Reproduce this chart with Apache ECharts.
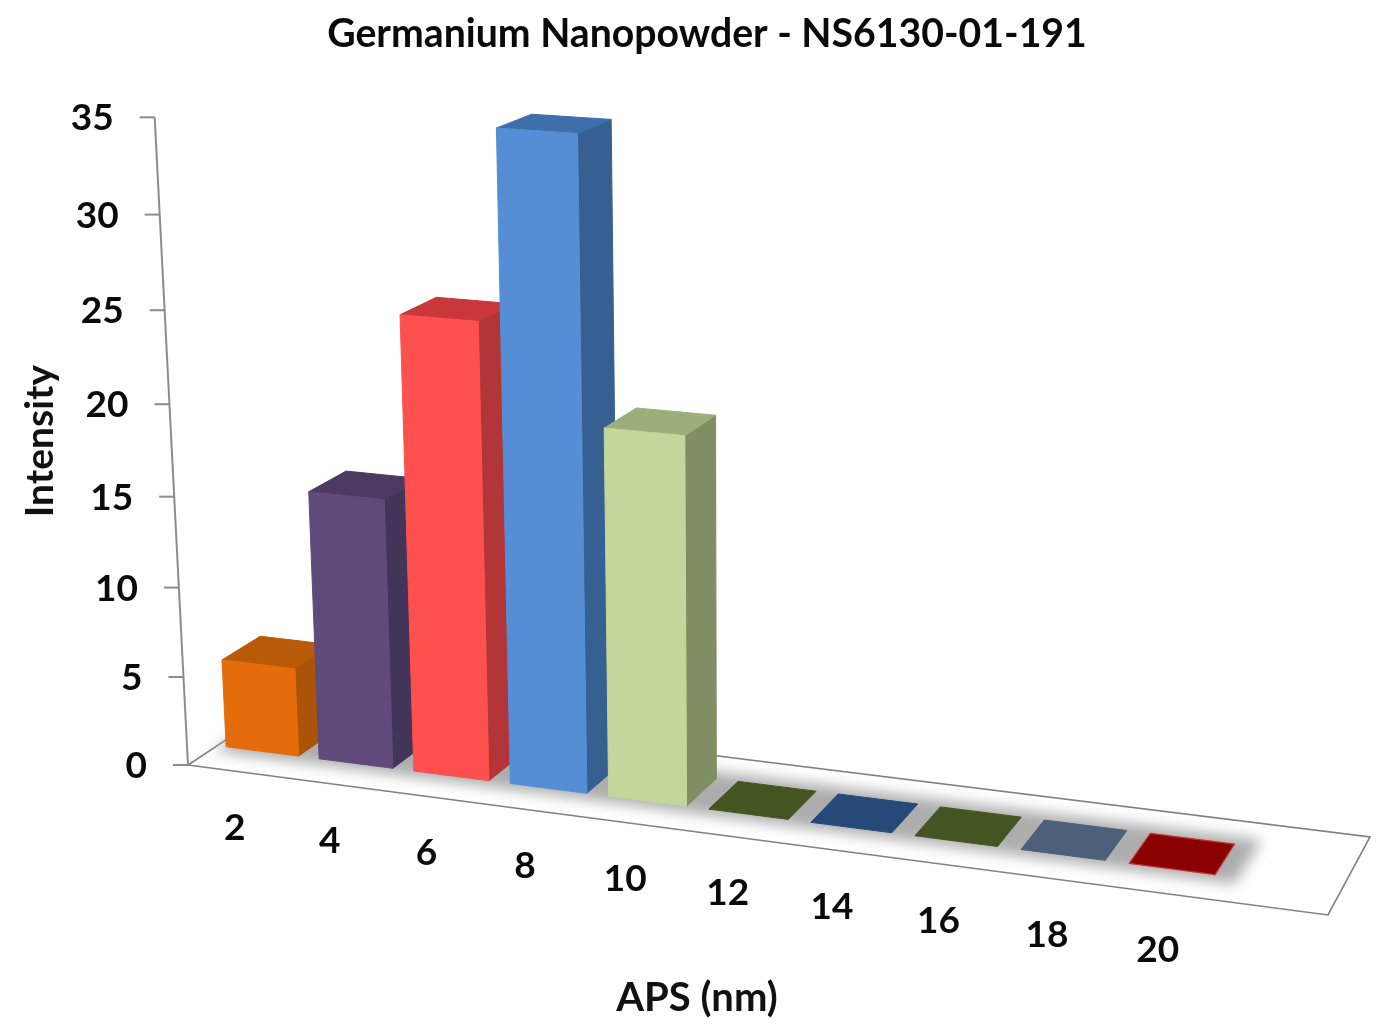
<!DOCTYPE html>
<html><head><meta charset="utf-8">
<style>html,body{margin:0;padding:0;background:#fff}#c{width:1388px;height:1028px}</style>
<script src="https://cdn.jsdelivr.net/npm/echarts@6/dist/echarts.min.js"></script>
</head><body><div id="c"></div>
<script>
const titleText = 'Germanium Nanopowder - NS6130-01-191';
const xName = 'APS (nm)';
const yName = 'Intensity';
const categories = ['2','4','6','8','10','12','14','16','18','20'];
const intensity = [5,15,25,35,20,0,0,0,0,0];
const yTicks = [0,5,10,15,20,25,30,35];
const frontColors = ['#E46C0A','#604A7B','#FF5050','#558ED5','#C3D69B','#4F6228','#1F497D','#4F6228','#4F6178','#8B0000'];
const sideColors  = ['#AB5408','#43345A','#B23538','#376092','#7F8F63','#4F6228','#1F497D','#4F6228','#4F6178','#8B0000'];
const topColors   = ['#B85A08','#4C3A63','#C9363B','#3E6FAB','#9CAF7A','#435520','#26497A','#435520','#4D6079','#8B0000'];

const G = {left:188, top:117, width:1018, height:648};
const FONT = 'Lato, "Open Sans", sans-serif';
// perspective of the floor (u along categories, w in depth) and the vertical vanishing point
const C = [[188,765],[1328,915],[1370,837],[283,702]];
const dx1=C[1][0]-C[2][0], dx2=C[3][0]-C[2][0], sx=C[0][0]-C[1][0]+C[2][0]-C[3][0];
const dy1=C[1][1]-C[2][1], dy2=C[3][1]-C[2][1], sy=C[0][1]-C[1][1]+C[2][1]-C[3][1];
const det=dx1*dy2-dx2*dy1;
const hg=(sx*dy2-dx2*sy)/det, hh=(dx1*sy-sx*dy1)/det;
const ha=C[1][0]-C[0][0]+hg*C[1][0], hb=C[3][0]-C[0][0]+hh*C[3][0];
const hd=C[1][1]-C[0][1]+hg*C[1][1], he=C[3][1]-C[0][1]+hh*C[3][1];
const VP=[740,11500], GAMMA=-0.0569;
function P(u,w,h){
  const t=(h||0)*GAMMA;
  const X=ha*u+hb*w+C[0][0]+t*VP[0], Y=hd*u+he*w+C[0][1]+t*VP[1], W=hg*u+hh*w+1+t;
  return [X/W,Y/W];
}
const U = px => (px-G.left)/G.width*(categories.length/(categories.length+1));
const H = py => (G.top+G.height-py)/G.height;
const WF=0.30, WB=0.70, BARW=0.78, BAR_SHIFT=-1.5;
const poly=(pts,fill,extra)=>({type:'polygon',shape:{points:pts},style:Object.assign({fill:fill,stroke:fill,lineWidth:1,lineJoin:'round'},extra||{}),silent:true});

function renderBar(params,api){
  const i=api.value(0), v=api.value(1);
  const base=api.coord([i,0]), top=api.coord([i,v]);
  const half=api.size([1,0])[0]*BARW/2;
  const u0=U(base[0]-half), u1=U(base[0]+half), h=H(top[1]);
  const children=[];
  if(h>0){
    children.push(poly([P(u1,WF,0),P(u1,WB,0),P(u1,WB,h),P(u1,WF,h)],sideColors[i]));
    children.push(poly([P(u0,WF,h),P(u1,WF,h),P(u1,WB,h),P(u0,WB,h)],topColors[i]));
    children.push(poly([P(u0,WF,0),P(u1,WF,0),P(u1,WF,h),P(u0,WF,h)],frontColors[i]));
  } else {
    const red=i===categories.length-1;
    children.push(poly([P(u0,WF),P(u1,WF),P(u1,WB),P(u0,WB)],topColors[i],red?{stroke:'#C93030',lineWidth:1.2}:{}));
  }
  return {type:'group',x:BAR_SHIFT,children};
}
function renderFloor(params,api){
  const n=categories.length, uEnd=n/(n+1), OFF=3000;
  return {type:'group',children:[
    poly([P(0,0),P(1,0),P(1,1),P(0,1)],'#fff',{stroke:'#7f7f7f',lineWidth:1.6,lineJoin:'miter'}),
    // only the blurred shadow of this off-canvas shape is visible: it fades softly on every side
    {type:'polygon',x:-OFF,shape:{points:[P(0.004,0.22),P(uEnd+0.008,0.22),P(uEnd+0.008,0.79),P(0.004,0.79)]},
     style:{fill:'#000',shadowBlur:14,shadowOffsetX:OFF,shadowColor:'#adadad'},silent:true}
  ]};
}
function renderYTick(params,api){
  const v=api.value(1), h=H(api.coord([0,v])[1]);
  const p=P(0,0,h), q=[p[0]-15,p[1]];
  return {type:'group',children:[
    {type:'line',shape:{x1:q[0],y1:q[1],x2:p[0],y2:p[1]},style:{stroke:'#8c8c8c',lineWidth:2},silent:true},
    {type:'text',x:q[0]-26,y:q[1]+1,style:{text:String(v),fill:'#0a0a0a',font:'bold 37px '+FONT,textAlign:'right',textVerticalAlign:'middle'},silent:true}
  ]};
}
function renderXLabel(params,api){
  const i=api.value(0), px=api.coord([i,0])[0], p=P(U(px),0,0);
  return {type:'text',x:p[0],y:p[1]+57,style:{text:categories[i],fill:'#0a0a0a',font:'bold 37px '+FONT,textAlign:'center',textVerticalAlign:'middle'},silent:true};
}
function renderAxisLine(params,api){
  const a=P(0,0,0), b=P(0,0,1);
  return {type:'line',shape:{x1:a[0],y1:a[1],x2:b[0],y2:b[1]},style:{stroke:'#8c8c8c',lineWidth:2},silent:true};
}
const barData=categories.map((c,i)=>[i,intensity[i]]);
const chart=echarts.init(document.getElementById('c'),null,{renderer:'canvas',width:1388,height:1028});
chart.setOption({
  backgroundColor:'#fff',
  animation:false,
  title:{text:titleText,top:10,left:702,textAlign:'center',textStyle:{fontFamily:FONT,fontWeight:'bold',fontSize:39.2,color:'#0a0a0a'}},
  grid:{left:G.left,top:G.top,width:G.width,height:G.height},
  xAxis:{type:'category',data:categories,name:xName,nameLocation:'middle',nameGap:233,
    nameTextStyle:{fontFamily:FONT,fontSize:40,fontWeight:'bold',color:'#111',verticalAlign:'middle'},
    axisLine:{show:false},axisTick:{show:false},axisLabel:{show:false},splitLine:{show:false}},
  yAxis:{type:'value',min:0,max:35,interval:5,name:yName,nameLocation:'middle',nameGap:148,
    nameTextStyle:{fontFamily:FONT,fontSize:39,fontWeight:'bold',color:'#111',verticalAlign:'middle'},
    axisLine:{show:false},axisTick:{show:false},axisLabel:{show:false},splitLine:{show:false}},
  series:[
    {type:'custom',name:'floor',z:1,renderItem:renderFloor,data:[[0,0]],encode:{x:0,y:1},silent:true},
    {type:'custom',name:'axis',z:2,renderItem:renderAxisLine,data:[[0,0]],encode:{x:0,y:1},silent:true},
    {type:'custom',name:'yTicks',z:3,renderItem:renderYTick,data:yTicks.map(v=>[0,v]),encode:{x:0,y:1},silent:true},
    {type:'custom',name:'xLabels',z:3,renderItem:renderXLabel,data:categories.map((c,i)=>[i,0]),encode:{x:0,y:1},silent:true},
    {type:'custom',name:'Intensity',z:4,renderItem:renderBar,data:barData,encode:{x:0,y:1},silent:true}
  ]
});
</script></body></html>
